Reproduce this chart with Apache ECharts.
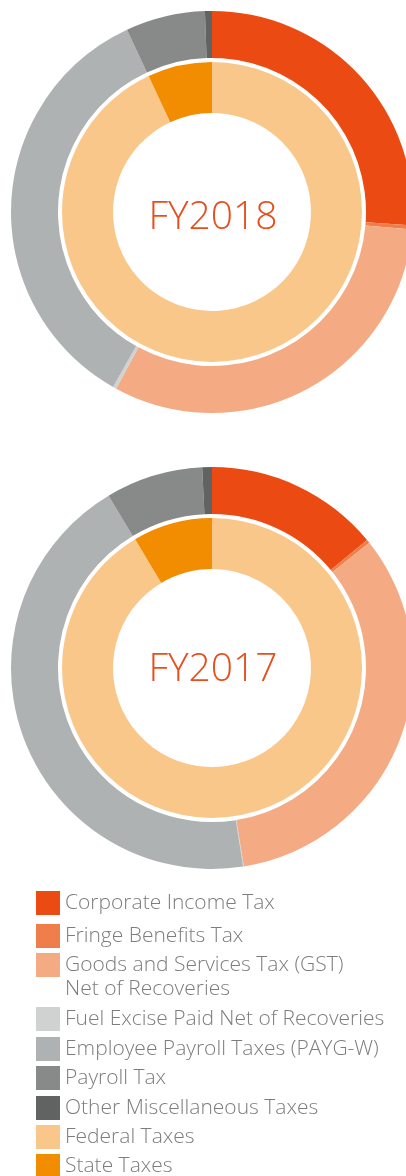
<!DOCTYPE html>
<html>
<head>
<meta charset="utf-8">
<script src="https://cdn.jsdelivr.net/npm/echarts@6/dist/echarts.min.js"></script>
<style>
  html, body { margin: 0; padding: 0; background: #fff; }
  #chart { width: 406px; height: 1176px; }
</style>
</head>
<body>
<div id="chart"></div>
<script>
  // outer ring categories (share of total, %)
  const outerNames = [
    'Corporate Income Tax',
    'Fringe Benefits Tax',
    'Goods and Services Tax (GST) Net of Recoveries',
    'Fuel Excise Paid Net of Recoveries',
    'Employee Payroll Taxes (PAYG-W)',
    'Payroll Tax',
    'Other Miscellaneous Taxes'
  ];
  const outer2018 = [26.06, 0.33, 31.53, 0.28, 34.86, 6.39, 0.56];
  const outer2017 = [14.03, 0.28, 33.19, 0.05, 43.89, 7.83, 0.78];

  // inner ring
  const innerNames = ['Federal Taxes', 'State Taxes'];
  const inner2018 = [93.06, 6.94];
  const inner2017 = [91.44, 8.56];

  const years = ['FY2018', 'FY2017'];

  const outerColors = ['#EB4B13', '#F07E4A', '#F4AA82', '#D0D1D1', '#AFB2B3', '#888A89', '#616262'];
  const innerColors = ['#FAC78A', '#F28C00'];

  const fontFamily = '"Open Sans", "Noto Sans", sans-serif';
  const textGrey = '#7d7d7d';

  const centers = [[212, 212], [212, 668]];
  const titleY = [218, 670];

  function toData(names, values, colors) {
    return names.map((n, i) => ({ name: n, value: values[i], itemStyle: { color: colors[i] } }));
  }

  const series = [];
  [[outer2018, inner2018], [outer2017, inner2017]].forEach((pair, k) => {
    series.push({
      type: 'pie',
      center: centers[k],
      radius: [154, 201],
      startAngle: 90,
      clockwise: true,
      silent: true,
      label: { show: false },
      labelLine: { show: false },
      itemStyle: { borderWidth: 0 },
      data: toData(outerNames, pair[0], outerColors)
    });
    series.push({
      type: 'pie',
      center: centers[k],
      radius: [99, 150],
      startAngle: 90,
      clockwise: true,
      silent: true,
      label: { show: false },
      labelLine: { show: false },
      itemStyle: { borderWidth: 0 },
      data: toData(innerNames, pair[1], innerColors)
    });
  });

  // legend: one block per row so the uneven spacing can be kept
  const legendNames = outerNames.concat(innerNames);
  const legendTops = [891, 924, 929, 1007, 1037, 1066, 1096, 1125, 1154];

  const legend = legendNames.map((n, i) => {
    const isGst = n.indexOf('(GST)') > -1;
    return {
      orient: 'vertical',
      left: 36,
      top: legendTops[i],
      padding: 0,
      itemWidth: 24,
      itemHeight: 24,
      icon: 'rect',
      selectedMode: false,
      data: [n],
      formatter: function (name) {
        // empty first line keeps the square level with the first text line
        return isGst ? '\nGoods and Services Tax (GST)\nNet of Recoveries' : name;
      },
      textStyle: {
        color: textGrey,
        fontSize: 21,
        fontWeight: 300,
        fontFamily: fontFamily,
        lineHeight: 24
      }
    };
  });

  const chart = echarts.init(document.getElementById('chart'));
  chart.setOption({
    backgroundColor: '#ffffff',
    animation: false,
    legend: legend,
    graphic: years.map((y, k) => ({
      type: 'text',
      x: 213,
      y: titleY[k],
      style: {
        text: y,
        fill: '#E84E1B',
        font: '300 39px ' + fontFamily,
        textAlign: 'center',
        textVerticalAlign: 'middle'
      }
    })),
    series: series
  });
</script>
</body>
</html>
